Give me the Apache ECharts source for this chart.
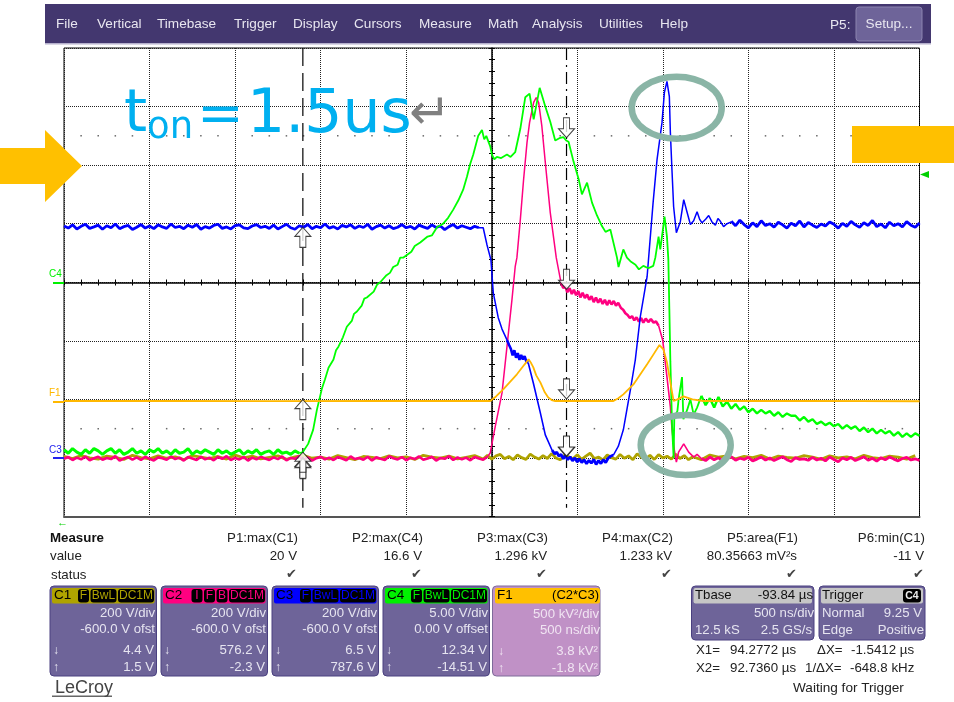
<!DOCTYPE html>
<html><head><meta charset="utf-8">
<style>html,body{margin:0;padding:0;background:#fff}#c{width:954px;height:702px}</style>
<script src="https://cdn.jsdelivr.net/npm/echarts@6/dist/echarts.min.js"></script>
</head><body><div id="c"></div>
<script>
// ---- Trace data: time in ns from the left of the screen, channel values in V (F1 in kV^2) ----
const coarseStep = 50, fineStep = 25;
const c1Head = [5,-2,8,0,-4,6,2,-5,9,1,-3,7,-1,4,-6,8,3,-2,5,-4,10,0,6,-3,2,7,-5,4,9,-1,3,-4,8,1,-6,5,2,-2,7,0,4,-5,9,3,-1,6,-3,2,8,-4];
const c1Mid = [9,-4,7,12,-3,5,-6,10,1,-5,13,3,-4,8,-2,15,0,-6,9,4,-3,11,-5,6,16,-2,3,-7,10,1,-4,12,-1,7,-6,14,2,-3,9,-5,11,0,6,-4,13,-2,8,-6];
const c1Tail = [4,-6,10,3,7,-3,5,1,9,-4,6,2,-1,8,3,-5,7,0,4,-3,9,1,-2,6,3,-4,8];
const c2Head = [-3,3,-7,1,-5,5,-8,-1,4,-6,0,-4,6,-9,-2,3,-6,2,-7,4,-3,-9,2,-1,-6,5,-4,1,-9,3,-2,-7,4,-5,1,-8,3,-3,6,-7,0,-5,3,-9,1,-5,4,-2,-7,2,-4,5,-8,0,-3,6,-6,2,-9,-1,4,-5,1,-7,3,-2,-8,5,-4,0,-6,4,-9,2,-3,-7,6,-1,-5,3,-8,1,-4,5,-6,-2,4,-9,0,-3,6,-7,2,-5,1,-8,3,-2,-6,4];
const c2Rise = [[2475,4],[2491,17],[2520,106],[2560,222],[2589,380],[2618,540],[2637,653],[2647,684],[2667,814],[2686,950],[2706,1077],[2721,1145],[2745,1214],[2760,1231],[2774,1214],[2793,1132],[2813,1009],[2842,838],[2877,684],[2905,598]];
const c2Plateau = [[2905,598],[2918,580],[2930,586],[2942,566],[2955,580],[2968,560],[2980,574],[2993,556],[3006,570],[3018,548],[3031,564],[3044,546],[3057,558],[3070,540],[3083,552],[3096,532],[3109,548],[3122,530],[3135,544],[3148,526],[3161,540],[3174,522],[3187,538],[3200,524],[3213,536],[3226,520],[3239,530],[3255,512],[3268,506],[3281,494],[3294,488],[3307,478],[3320,484],[3333,470],[3346,480],[3360,466],[3373,478],[3386,462],[3400,476],[3415,464],[3430,474],[3446,462],[3460,466],[3475,452]];
const c2Fall = [[3475,452],[3499,403],[3524,277],[3544,174],[3554,96],[3567,27],[3579,-14],[3592,20],[3622,48],[3651,20],[3680,3],[3700,12],[3725,-2]];
const c2Tail = [-2,-9,3,-6,1,-11,-3,4,-8,-1,-5,2,-10,-4,3,-7,0,-9,-2,4,-6,-12,1,-5,-3,-8,2,-7,-1,-10,3,-5,-13,0,-6,2,-9,-3,4,-8,-1,-11,1,-6,3,-4,-10,-2,2,-7,-3,-9];
const c3Head = [792,785,796,782,791,798,784,789,795,781,793,786,799,783,790,794,780,788,797,785,792,783,796,789,784,799,787,791,783,795,788,797,781,790,785,794,798,784,789,782,793,796,786,783,792,797,787,791,784,795,782,790,798,786,781,793,788,797,783,791,786,799,785,790,782,794,789,796,784,792,787,798,781,790,795,785,793,783,788,797,786,791,782,795,789,784,796,787,792,780,790,797,785,793,788,783,791,786];
const c3Fall = [[2425,786],[2450,786],[2472,728],[2495,677],[2509,564],[2538,479],[2560,440],[2589,403]];
const c3Shelf = [[2589,403],[2602,385],[2612,372],[2622,350],[2632,368],[2642,342],[2652,358],[2662,335],[2672,352],[2682,336],[2692,348],[2702,330],[2713,325]];
const c3Drop = [[2713,325],[2743,256],[2784,154],[2813,79],[2852,27]];
const c3Valley = [[2852,27],[2868,14],[2880,20],[2892,6],[2905,12],[2918,-3],[2930,8],[2944,-6],[2958,4],[2972,-10],[2985,0],[3000,-14],[3012,-3],[3026,-16],[3040,-6],[3054,-20],[3068,-8],[3082,-18],[3096,-5],[3110,-22],[3124,-9],[3138,-19],[3152,-6],[3166,-16],[3180,-1],[3195,6],[3211,10]];
const c3Rise = [[3211,10],[3240,40],[3269,96],[3310,232],[3339,335],[3368,482],[3408,619],[3443,872],[3466,1019],[3495,1145],[3509,1248],[3524,1286],[3538,1234],[3544,1111],[3554,974],[3563,858],[3579,769],[3602,807],[3622,882],[3642,838],[3661,797],[3680,810],[3700,841],[3715,815],[3729,803],[3750,815],[3768,828],[3787,806],[3807,795],[3822,818],[3836,808],[3855,790],[3875,800],[3900,806]];
const c3Tail = [808,793,812,797,786,803,790,810,794,800,788,805,796,785,802,793,809,789,804,795,787,799,792,806,798,785,801,791,808,796,788,803,794,811,790,799,786,805,793,800,789,807,795,788,802];
const c4Head = [-14.3,-14.6,-14.2,-14.5,-14.7,-14.3,-14.6,-14.2,-14.4,-14.7,-14.4,-14.2,-14.6,-14.3,-14.7,-14.5,-14.2,-14.6,-14.4,-14.7,-14.3,-14.5,-14.2,-14.6,-14.4,-14.7,-14.3,-14.6,-14.5,-14.2,-14.7,-14.4,-14.6,-14.3,-14.5,-14.7,-14.3,-14.6,-14.4,-14.7,-14.5,-14.3,-14.7,-14.4,-14.6,-14.3,-14.7,-14.5,-14.4,-14.7,-14.3,-14.6,-14.5,-14.7,-14.4,-14.6];
const c4Rise = [[1375,-14.6],[1396,-14.5],[1427,-13.8],[1456,-12.6],[1478,-10.9],[1507,-9.1],[1525,-8.3],[1546,-7.3],[1575,-6.6],[1590,-5.8],[1604,-5.5],[1630,-4.7],[1653,-3.8],[1682,-3.3],[1695,-2.7],[1712,-2.5],[1740,-2.0],[1755,-1.4],[1770,-1.3],[1810,-0.8],[1830,-0.2],[1848,0],[1885,0.6],[1905,0.8],[1924,1.3],[1950,1.5],[1965,2.1],[1982,2.1],[2030,2.6],[2050,3.1],[2082,3.4],[2125,3.9],[2150,4.0],[2180,4.7],[2216,5.0],[2245,5.5],[2275,6.2],[2305,7.0],[2333,7.9],[2355,9.0],[2374,10.1],[2392,10.9],[2421,12.5],[2443,13.0],[2456,12.2],[2468,12.5],[2491,11.6],[2501,10.9],[2515,10.5],[2530,10.7],[2555,10.6],[2589,10.9],[2610,10.7],[2637,11.1],[2667,13.1],[2696,15.8],[2721,16.1],[2745,13.9],[2780,16.6],[2813,15.0],[2842,13.7],[2871,12.1],[2895,12.3],[2918,12.4],[2935,12.1],[2949,12.0],[2978,10.3],[3008,8.8],[3027,7.5],[3057,8.5],[3086,6.8],[3115,5.7],[3144,4.8],[3165,4.3],[3193,4.5],[3232,2.1],[3241,1.3],[3269,2.8],[3290,2.1],[3310,1.8],[3340,1.5],[3360,1.1],[3386,1.4],[3415,1.2],[3444,1.4],[3456,2.1],[3475,3.9],[3485,2.8],[3510,5.6],[3524,3.9],[3532,2.0],[3538,-2.3],[3544,-6.8],[3554,-12.3],[3563,-15.0],[3567,-11.5],[3585,-11.0],[3592,-10.0],[3602,-10],[3612,-8.1],[3620,-11.7],[3642,-10.9],[3661,-10],[3680,-11.3],[3700,-10.7],[3725,-9.7]];
const c4Tail = [-9.7,-10.5,-9.9,-10.7,-9.8,-10.6,-10.2,-10.8,-10.4,-10.9,-10.6,-11.1,-10.8,-11.2,-10.9,-11.2,-11.0,-11.4,-11.1,-11.5,-11.2,-11.4,-11.4,-11.8,-11.5,-11.9,-11.7,-12.1,-11.9,-12.2,-12.0,-12.3,-12.1,-12.5,-12.2,-12.5,-12.3,-12.7,-12.4,-12.8,-12.5,-12.9,-12.6,-12.9,-12.7,-13.1,-12.8,-13.2,-12.9,-13.2,-12.9,-13.1];
const f1Trace = [[0,-14],[620,-12],[1200,-15],[1850,-13],[2491,-14],[2525,25],[2567,85],[2647,214],[2690,295],[2715,342],[2730,310],[2743,273],[2760,205],[2784,145],[2810,60],[2830,17],[2850,-6],[2871,-14],[3211,-14],[3240,10],[3269,43],[3328,128],[3408,299],[3450,395],[3480,464],[3503,427],[3524,316],[3544,145],[3555,50],[3563,-14],[3585,0],[3620,26],[3673,0],[3737,-14],[4300,-13],[5000,-16]];
const cursorTimes = [1396, 2937];
const dotTimes = [100,200,300,400,600,700,800,900,1100,1200,1300,1400,1600,1700,1800,1900,2100,2200,2300,2400,2600,2700,2800,2900,3100,3200,3300,3400,3600,3700,3800,3900,4100,4200,4300,4400,4600,4700,4800,4900];
const dotLevels = [100, 1100];
const x1Values = {c1: 1.5, c2: -2.3, c3: 787.6, c4: -14.51, f1: -1.8};
const x2Values = {c1: 4.4, c2: 576.2, c3: 6.5, c4: 12.34, f1: 3.8};

// ---- Interface text ----
const menuLabels = ['File','Vertical','Timebase','Trigger','Display','Cursors','Measure','Math','Analysis','Utilities','Help'];
const menuX = [56,97,157,234,293,354,419,488,532,599,660];
const measureNames = ['P1:max(C1)','P2:max(C4)','P3:max(C3)','P4:max(C2)','P5:area(F1)','P6:min(C1)'];
const measureValues = ['20 V','16.6 V','1.296 kV','1.233 kV','80.35663 mV²s','-11 V'];
const measureRight = [298,423,548,673,798,925];
const panelNames = ['C1','C2','C3','C4'];
const panelX = [50,161,272,383];
const panelColors = ['#AFA300','#FF0080','#0000FF','#00F000'];
const panelTags = [['F','BwL','DC1M'],['I','F','B','DC1M'],['F','BwL','DC1M'],['F','BwL','DC1M']];
const panelScale = ['200 V/div','200 V/div','200 V/div','5.00 V/div'];
const panelOffset = ['-600.0 V ofst','-600.0 V ofst','-600.0 V ofst','0.00 V offset'];
const panelDown = ['4.4 V','576.2 V','6.5 V','12.34 V'];
const panelUp = ['1.5 V','-2.3 V','787.6 V','-14.51 V'];

const stepped = (start, step, arr) => arr.map((v, i) => [start + i * step, v]);
const FONT = '"Liberation Sans", Arial, sans-serif';
const DEJAVU = '"DejaVu Sans"';
const g = [];
const T = (text, x, y, o = {}) => g.push({type:'text', x, y, z: o.z || 30, style:{text, fill:o.color||'#222', font:`${o.weight||'normal'} ${o.size||13.3}px ${o.family||FONT}`, textAlign:o.align||'left', textVerticalAlign:'middle'}});
const R = (x, y, w, h, fill, r = 0, stroke) => g.push({type:'rect', z:20, shape:{x,y,width:w,height:h,r}, style:{fill, stroke:stroke||null, lineWidth:stroke?1:0}});

// Menu bar
R(45,4,886,40,'#43376F');
R(45,43,886,1.5,'#B5B0CC');
menuLabels.forEach((m,i)=>T(m,menuX[i],24.5,{color:'#E8E6F0',size:13.6}));
T('P5:',830,25,{color:'#E8E6F0',size:13.6});
R(856,7,66,34,'#6E6499',3,'#8C84B0');
T('Setup...',889,24.5,{color:'#E8E6F0',size:13.6,align:'center'});

// Yellow callouts
g.push({type:'polygon', z:25, shape:{points:[[0,148],[45,148],[45,130],[82,166],[45,202],[45,184],[0,184]]}, style:{fill:'#FFC000'}});
R(852,126,102,37,'#FFC000'); g[g.length-1].z=25;
// Ovals
g.push({type:'ellipse', z:25, shape:{cx:676.7,cy:107.7,rx:45,ry:31}, style:{fill:null,stroke:'#8AB5A6',lineWidth:6.5}});
g.push({type:'ellipse', z:25, shape:{cx:685.7,cy:445,rx:45,ry:30}, style:{fill:null,stroke:'#8AB5A6',lineWidth:6.5}});
// Title annotation
T('t',124,116,{color:'#00B0F0',size:59,z:31,family:DEJAVU});
T('on',147,128,{color:'#00B0F0',size:37,z:31,family:DEJAVU});
T('=',197,117,{color:'#00B0F0',size:56,z:31,family:DEJAVU});
T('1.5us',247,116,{color:'#00B0F0',size:60,z:31,family:DEJAVU});
T('↵',409,116,{color:'#808080',size:50,family:DEJAVU,z:31});

// Channel ground labels
[['C4','#00F000',274,283],['F1','#FFB800',393,402],['C3','#2222EE',450,458]].forEach(([t,c,ly,my])=>{
  T(t,49,ly,{color:c,size:10});
  R(53,my-1,11,2,c);
});
g.push({type:'polygon', z:25, shape:{points:[[920,174.5],[929,171],[929,178]]}, style:{fill:'#00D000'}});
T('←',57,522.5,{color:'#00D000',size:11});

// Measure table
T('Measure',50,538.5,{weight:'bold',color:'#111'});
T('value',50,556); T('status',51,575);
measureNames.forEach((m,i)=>{
  T(m,measureRight[i],538.5,{align:'right'});
  T(measureValues[i],measureRight[i]-1,556,{align:'right'});
  T('✔',measureRight[i]-1,575,{align:'right',size:13,color:'#444',family:DEJAVU});
});

// Channel panels
const PANEL = {color:'#E6E4F0',size:13.2};
const txtR = () => ({color:'#E6E4F0',size:13.2,align:'right'});
const tagW = {F:11,I:11,B:11,BwL:26,DC1M:36};
panelNames.forEach((n,i)=>{
  const x = panelX[i], c = panelColors[i];
  R(x,586,106.5,90,'#6E6499',4,'#4A4080');
  R(x+2,588,102.5,15.5,c,2);
  T(n,x+4,595.5,{color:'#000',size:13.5});
  let right = x+104;
  [...panelTags[i]].reverse().forEach(tag=>{
    const w = tagW[tag];
    R(right-w,589,w,13.5,'#000',3);
    T(tag,right-w/2,596,{color:c,size:12,align:'center'});
    right -= w+1.5;
  });
  T(panelScale[i],x+105,613,txtR());
  T(panelOffset[i],x+105,629,txtR());
  T(panelDown[i],x+104,650,txtR());
  T(panelUp[i],x+104,667,txtR());
  T('↓',x+3,651,{color:'#E6E4F0',size:12});
  T('↑',x+3,668,{color:'#E6E4F0',size:12});
});
// F1 panel
R(492.5,586,107.5,90,'#C091C6',4,'#7E6A9A');
R(495,588,105,15.5,'#FFC000',2);
T('F1',497,595.5,{color:'#000',size:13.5});
T('(C2*C3)',599,595.5,{color:'#000',size:13,align:'right'});
const fTxt={color:'#F0E4F2',size:13.2,align:'right'};
T('500 kV²/div',599,614,fTxt); T('500 ns/div',600,630,fTxt);
T('3.8 kV²',598,651,fTxt); T('-1.8 kV²',598,668,fTxt);
T('↓',498,652,{color:'#F0E4F2',size:12}); T('↑',498,669,{color:'#F0E4F2',size:12});
// Tbase
R(691.5,586,122.5,54,'#6E6499',4,'#4A4080');
R(693.5,588,118.5,15.5,'#C6C6C6',2);
T('Tbase',695,595.5,{color:'#111',size:13.2});
T('-93.84 µs',813,595.5,{color:'#111',size:13.2,align:'right'});
T('500 ns/div',814,613,txtR()); T('12.5 kS',695,630,PANEL); T('2.5 GS/s',812,630,txtR());
// Trigger
R(819,586,106,54,'#6E6499',4,'#4A4080');
R(821,588,102,15.5,'#C6C6C6',2);
T('Trigger',822,595.5,{color:'#111',size:13.2});
R(903,589,18,13.5,'#000',3); T('C4',912,596,{color:'#eee',size:10.5,align:'center',weight:'bold'});
T('Normal',822,613,PANEL); T('9.25 V',922,613,txtR());
T('Edge',822,630,PANEL); T('Positive',924,630,txtR());
// Cursor readouts
T('X1=',696,650); T('94.2772 µs',730,650);
T('X2=',696,668); T('92.7360 µs',730,668);
T('ΔX=',817,650); T('-1.5412 µs',851,650);
T('1/ΔX=',805,668); T('-648.8 kHz',850,668);
T('Waiting for Trigger',793,688.5,{size:13.6});
// Logo
T('LeCroy',55,688,{size:18,color:'#444'});
R(52,695.5,60,1.5,'#666');

// ---- Chart ----
const dotted = {color:'#222',width:1,type:[1,1]};
const off = {show:false};
const hiddenX = o => Object.assign({type:'value',min:0,max:5000,interval:100,position:'bottom',axisLabel:off,splitLine:off,axisLine:off,axisTick:off},o);
const hiddenY = o => Object.assign({type:'value',position:'left',axisLabel:off,splitLine:off,axisLine:off,axisTick:off},o);
const axisBlack = {show:true,lineStyle:{color:'#000',width:1.5}};
const tk = inside => ({show:true,inside,length:3,lineStyle:{color:'#000',width:1}});

const trace = (name,data,color,yAxisIndex,width,z) => ({name,type:'line',data,yAxisIndex,xAxisIndex:0,showSymbol:false,symbol:'none',smooth:false,animation:false,silent:true,z,lineStyle:{color,width,join:'bevel'}});
const cursor = (t,type) => ({type:'line',xAxisIndex:0,yAxisIndex:0,data:[[t,1400],[t,-170]],symbol:'none',silent:true,animation:false,z:3,lineStyle:{color:'#000',width:1.2,type}});
const upPath = 'path://M8,0 L16,9 L11,9 L11,20 L5,20 L5,9 L0,9 Z';
const dnPath = 'path://M5,0 L11,0 L11,11 L16,11 L8,20 L0,11 L5,11 Z';
const arrows = (t,vals,axis,path,shift) => ({type:'scatter',xAxisIndex:0,yAxisIndex:axis,data:vals.map(v=>[t,v]),symbol:path,symbolSize:[16,20],symbolOffset:[0,shift],silent:true,animation:false,z:12,itemStyle:{color:'#fff',borderColor:'#111',borderWidth:1}});
const dotData = dotLevels.flatMap(l => dotTimes.map(t => [t,l]));

const option = {
  animation:false,
  backgroundColor:'#fff',
  textStyle:{fontFamily:FONT},
  grid:{left:64,right:34.5,top:48,bottom:185.5,show:true,borderColor:'#000',borderWidth:1,backgroundColor:'#fff'},
  xAxis:[
    {type:'value',min:0,max:5000,interval:500,position:'bottom',axisLabel:off,axisTick:off,axisLine:{show:true,onZero:false,lineStyle:{color:'#555',width:2}},splitLine:{show:true,lineStyle:dotted}},
    hiddenX({offset:-234,axisLine:Object.assign({onZero:false},axisBlack),axisTick:tk(true)}),
    hiddenX({offset:-234,axisTick:tk(false)})
  ],
  yAxis:[
    {type:'value',min:-200,max:1400,interval:200,position:'left',axisLabel:off,axisTick:off,axisLine:off,splitLine:{show:true,lineStyle:dotted}},
    hiddenY({min:-20,max:20}),
    hiddenY({min:-1000,max:3000}),
    hiddenY({min:-200,max:1400,interval:40,offset:-428,axisLine:Object.assign({onZero:false},axisBlack),axisTick:tk(true)}),
    hiddenY({min:-200,max:1400,interval:40,offset:-428,axisTick:tk(false)})
  ],
  graphic:{elements:g},
  series:[
    {type:'scatter',xAxisIndex:0,yAxisIndex:0,data:dotData,symbol:'rect',symbolSize:1.5,silent:true,animation:false,z:2,itemStyle:{color:'#444'}},
    cursor(cursorTimes[0],[18,7]),
    cursor(cursorTimes[1],[12,5,2,5]),
    trace('C1',[...stepped(0,coarseStep,c1Head),...stepped(2475,fineStep,c1Mid),...stepped(3675,coarseStep,c1Tail)],'#AFA300',0,2.8,5),
    trace('C2',stepped(0,fineStep,c2Head),'#FF0080',0,2.6,6),
    trace('C2',c2Rise,'#FF0080',0,1.5,6),
    trace('C2',c2Plateau,'#FF0080',0,2.6,6),
    trace('C2',c2Fall,'#FF0080',0,1.6,6),
    trace('C2',stepped(3725,fineStep,c2Tail),'#FF0080',0,2.8,6),
    trace('C3',stepped(0,fineStep,c3Head),'#0000FF',0,2.8,7),
    trace('C3',c3Fall,'#0000FF',0,1.5,7),
    trace('C3',c3Shelf,'#0000FF',0,2.6,7),
    trace('C3',c3Drop,'#0000FF',0,1.6,7),
    trace('C3',c3Valley,'#0000FF',0,2.8,7),
    trace('C3',c3Rise,'#0000FF',0,1.5,7),
    trace('C3',stepped(3900,fineStep,c3Tail),'#0000FF',0,2.8,7),
    trace('C4',stepped(0,fineStep,c4Head),'#00FF00',1,3,8),
    trace('C4',c4Rise,'#00FF00',1,1.8,8),
    trace('C4',stepped(3725,fineStep,c4Tail),'#00FF00',1,2.4,8),
    trace('F1',f1Trace,'#FFB800',2,1.8,9),
    arrows(cursorTimes[0],[x1Values.c1,x1Values.c2,x1Values.c3],0,upPath,10),
    arrows(cursorTimes[0],[x1Values.c4],1,upPath,10),
    arrows(cursorTimes[0],[x1Values.f1],2,upPath,10),
    arrows(cursorTimes[1],[x2Values.c1,x2Values.c2,x2Values.c3],0,dnPath,-10),
    arrows(cursorTimes[1],[x2Values.c4],1,dnPath,-10),
    arrows(cursorTimes[1],[x2Values.f1],2,dnPath,-10)
  ]
};
echarts.init(document.getElementById('c')).setOption(option);
</script></body></html>
